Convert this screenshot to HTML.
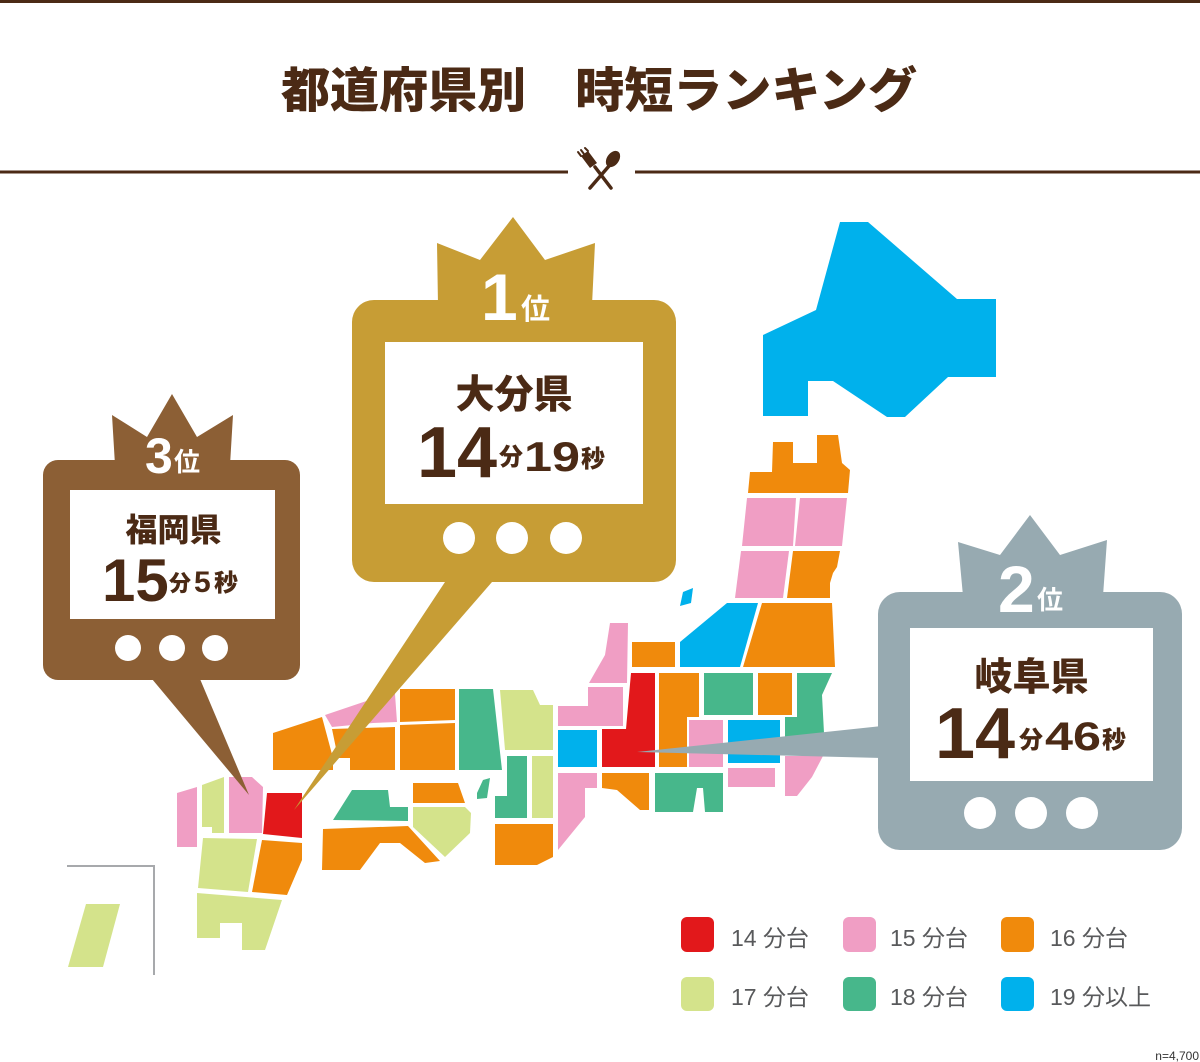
<!DOCTYPE html>
<html lang="ja">
<head>
<meta charset="utf-8">
<style>
  html,body{margin:0;padding:0;background:#fff;}
  body{width:1200px;height:1062px;overflow:hidden;}
  svg{display:block;}
  text{font-family:"Liberation Sans","Noto Sans CJK JP",sans-serif;}
  .k{font-family:"Noto Sans CJK JP","Liberation Sans",sans-serif;}
</style>
</head>
<body>
<svg width="1200" height="1062" viewBox="0 0 1200 1062" xmlns="http://www.w3.org/2000/svg">
  <!-- header -->
  <rect x="0" y="0" width="1200" height="3" fill="#4b2a15"/>
  <text class="k" x="281" y="107" font-size="48" font-weight="900" fill="#4b2a15" textLength="636" lengthAdjust="spacingAndGlyphs">都道府県別　時短ランキング</text>
  <rect x="0" y="170.5" width="568" height="3" fill="#4b2a15"/>
  <rect x="635" y="170.5" width="565" height="3" fill="#4b2a15"/>
  <!-- fork & spoon -->
  <g fill="#4b2a15" stroke="#4b2a15" stroke-linecap="round">
    <ellipse cx="613" cy="159" rx="6" ry="9" transform="rotate(35 613 159)" stroke="none"/>
    <line x1="609" y1="166" x2="590" y2="188" stroke-width="3.5"/>
    <line x1="595" y1="167" x2="611" y2="188" stroke-width="3.5"/>
    <path d="M581,156 L590,168 L597,163 L588,151 Z" stroke="none"/>
    <line x1="581" y1="156" x2="578" y2="152" stroke-width="2"/>
    <line x1="584" y1="154" x2="581" y2="150" stroke-width="2"/>
    <line x1="588" y1="151" x2="585" y2="148" stroke-width="2"/>
  </g>

  <!-- map -->
  <g>
    <!-- blue -->
    <g fill="#00b1ec">
      <polygon points="840,222 868,222 957,299 996,299 996,377 948,377 905,417 887,417 833,381 808,381 808,416 763,416 763,335 816,310"/>
      <polygon points="683,592 693,588 691,603 680,606"/>
      <polygon points="680,642 727,603 758,603 740,667 680,667"/>
      <polygon points="728,720 780,720 780,763 728,763"/>
      <polygon points="558,730 597,730 597,767 558,767"/>
    </g>
    <!-- orange -->
    <g fill="#f08a0c">
      <polygon points="773,442 793,442 793,463 817,463 817,435 838,435 842,463 850,470 848,493 748,493 750,472 772,472"/>
      <polygon points="793,551 840,551 837,567 833,573 830,583 830,598 787,598"/>
      <polygon points="762,603 832,603 835,667 743,667"/>
      <polygon points="632,642 675,642 675,667 632,667"/>
      <polygon points="659,673 699,673 699,717 687,717 687,767 659,767"/>
      <polygon points="758,673 792,673 792,715 758,715"/>
      <polygon points="602,773 649,773 649,810 640,810 617,790 602,788"/>
      <polygon points="495,824 553,824 553,857 537,865 495,865"/>
      <polygon points="400,689 455,689 455,720 400,722"/>
      <polygon points="400,725 455,723 455,770 400,770"/>
      <polygon points="332,729 395,727 395,770 350,770 350,758 338,758"/>
      <polygon points="273,733 322,717 333,758 333,770 273,770"/>
      <polygon points="323,829 408,826 440,861 425,863 400,843 380,843 360,870 322,870"/>
      <polygon points="413,783 458,783 465,803 413,803"/>
      <polygon points="262,840 302,843 302,860 287,895 252,892"/>
    </g>
    <!-- pink -->
    <g fill="#f09ec4">
      <polygon points="747,498 796,498 793,546 742,546"/>
      <polygon points="800,498 847,498 842,546 795,546"/>
      <polygon points="741,551 789,551 783,598 735,598"/>
      <polygon points="610,623 628,623 627,683 589,683 605,655"/>
      <polygon points="588,687 623,687 623,726 558,726 558,706 588,706"/>
      <polygon points="689,720 723,720 723,767 689,767"/>
      <polygon points="728,768 775,768 775,787 728,787"/>
      <polygon points="785,756 823,756 812,777 797,796 785,796"/>
      <polygon points="558,773 597,773 597,788 585,788 585,817 558,850"/>
      <polygon points="325,715 387,694 395,694 397,722 373,723 332,727"/>
      <polygon points="229,777 252,777 263,787 262,833 229,833"/>
      <polygon points="177,793 197,787 197,847 177,847"/>
    </g>
    <!-- red -->
    <g fill="#e2181b">
      <polygon points="631,673 655,673 655,767 602,767 602,729 626,729"/>
      <polygon points="267,793 302,793 302,838 263,834"/>
    </g>
    <!-- green -->
    <g fill="#47b78b">
      <polygon points="704,673 753,673 753,715 704,715"/>
      <polygon points="797,673 832,673 822,695 825,752 785,752 785,717 797,717"/>
      <polygon points="655,773 723,773 723,812 705,812 703,788 697,788 693,812 655,812"/>
      <polygon points="507,756 527,756 527,818 495,818 495,796 507,796"/>
      <polygon points="459,689 493,689 502,770 459,770"/>
      <polygon points="477,793 483,780 490,778 487,798 477,799"/>
      <polygon points="333,820 352,790 388,790 390,807 408,807 408,821"/>
    </g>
    <!-- light green -->
    <g fill="#d4e38b">
      <polygon points="500,690 533,690 540,705 553,705 553,750 505,750"/>
      <polygon points="532,756 553,756 553,818 532,818"/>
      <polygon points="413,807 465,807 471,813 470,833 445,857 413,827"/>
      <polygon points="202,785 224,777 224,833 212,833 212,827 202,827"/>
      <polygon points="203,838 257,839 248,892 198,888"/>
      <polygon points="197,893 282,900 265,950 242,950 242,923 220,923 220,938 197,938"/>
      <polygon points="86,904 120,904 103,967 68,967"/>
    </g>
    <!-- okinawa frame -->
    <polyline points="67,866 154,866 154,975" fill="none" stroke="#a7a9ac" stroke-width="2"/>
  </g>

  <!-- pointers -->
  <polygon points="445,582 492,582 294,810" fill="#c79d35"/>
  <polygon points="152,679 200,679 249,795" fill="#8c5f35"/>
  <polygon points="637,752 882,726 882,758" fill="#97aab1"/>

  <!-- 3rd: brown -->
  <g>
    <polygon points="112,415 147,437 172,394 197,437 233,415 230,465 115,465" fill="#8c5f35"/>
    <rect x="43" y="460" width="257" height="220" rx="15" fill="#8c5f35"/>
    <rect x="70" y="490" width="205" height="129" fill="#fff"/>
    <circle cx="128" cy="648" r="13" fill="#fff"/>
    <circle cx="172" cy="648" r="13" fill="#fff"/>
    <circle cx="215" cy="648" r="13" fill="#fff"/>
    <text x="145" y="473" font-size="50" font-weight="bold" fill="#fff">3</text>
    <text class="k" x="174" y="471" font-size="26" font-weight="bold" fill="#fff">位</text>
    <text class="k" x="173.5" y="541" text-anchor="middle" font-size="32" font-weight="900" fill="#4b2a15">福岡県</text>
    <text x="102" y="601" font-size="60" font-weight="bold" fill="#4b2a15">15</text>
    <text class="k" x="169" y="591" font-size="22" font-weight="900" fill="#4b2a15">分</text>
    <text x="194" y="592" font-size="30" font-weight="bold" fill="#4b2a15">5</text>
    <text class="k" x="214" y="591" font-size="24" font-weight="900" fill="#4b2a15">秒</text>
  </g>

  <!-- 1st: gold -->
  <g>
    <polygon points="437,243 480,260 513,217 545,260 595,243 592,305 438,305" fill="#c79d35"/>
    <rect x="352" y="300" width="324" height="282" rx="22" fill="#c79d35"/>
    <rect x="385" y="342" width="258" height="162" fill="#fff"/>
    <circle cx="459" cy="538" r="16" fill="#fff"/>
    <circle cx="512" cy="538" r="16" fill="#fff"/>
    <circle cx="566" cy="538" r="16" fill="#fff"/>
    <text x="481" y="320" font-size="66" font-weight="bold" fill="#fff">1</text>
    <text class="k" x="521" y="319" font-size="29" font-weight="bold" fill="#fff">位</text>
    <text class="k" x="514" y="408" text-anchor="middle" font-size="39" font-weight="900" fill="#4b2a15">大分県</text>
    <text x="417" y="477" font-size="72" font-weight="bold" fill="#4b2a15">14</text>
    <text class="k" x="499" y="465" font-size="24" font-weight="900" fill="#4b2a15">分</text>
    <text x="524" y="471" font-size="42" font-weight="bold" fill="#4b2a15" textLength="56" lengthAdjust="spacingAndGlyphs">19</text>
    <text class="k" x="581" y="467" font-size="24" font-weight="900" fill="#4b2a15">秒</text>
  </g>

  <!-- 2nd: gray -->
  <g>
    <polygon points="958,542 1000,555 1030,515 1060,555 1107,540 1103,596 963,596" fill="#97aab1"/>
    <rect x="878" y="592" width="304" height="258" rx="22" fill="#97aab1"/>
    <rect x="910" y="628" width="243" height="153" fill="#fff"/>
    <circle cx="980" cy="813" r="16" fill="#fff"/>
    <circle cx="1031" cy="813" r="16" fill="#fff"/>
    <circle cx="1082" cy="813" r="16" fill="#fff"/>
    <text x="998" y="612" font-size="66" font-weight="bold" fill="#fff">2</text>
    <text class="k" x="1037" y="609" font-size="26" font-weight="bold" fill="#fff">位</text>
    <text class="k" x="1031.5" y="690" text-anchor="middle" font-size="38" font-weight="900" fill="#4b2a15">岐阜県</text>
    <text x="935" y="758" font-size="72" font-weight="bold" fill="#4b2a15">14</text>
    <text class="k" x="1019" y="748" font-size="24" font-weight="900" fill="#4b2a15">分</text>
    <text x="1045" y="750" font-size="40" font-weight="bold" fill="#4b2a15" textLength="56" lengthAdjust="spacingAndGlyphs">46</text>
    <text class="k" x="1102" y="748" font-size="24" font-weight="900" fill="#4b2a15">秒</text>
  </g>

  <!-- legend -->
  <g>
    <rect x="681" y="917" width="33" height="35" rx="6" fill="#e2181b"/>
    <rect x="843" y="917" width="33" height="35" rx="6" fill="#f09ec4"/>
    <rect x="1001" y="917" width="33" height="35" rx="6" fill="#f08a0c"/>
    <rect x="681" y="977" width="33" height="34" rx="6" fill="#d4e38b"/>
    <rect x="843" y="977" width="33" height="34" rx="6" fill="#47b78b"/>
    <rect x="1001" y="977" width="33" height="34" rx="6" fill="#00b1ec"/>
    <g font-size="23" fill="#58595b">
      <text x="731" y="946">14 分台</text>
      <text x="890" y="946">15 分台</text>
      <text x="1050" y="946">16 分台</text>
      <text x="731" y="1005">17 分台</text>
      <text x="890" y="1005">18 分台</text>
      <text x="1050" y="1005">19 分以上</text>
    </g>
    <text x="1199" y="1060" text-anchor="end" font-size="12" fill="#333">n=4,700</text>
  </g>
</svg>
</body>
</html>
